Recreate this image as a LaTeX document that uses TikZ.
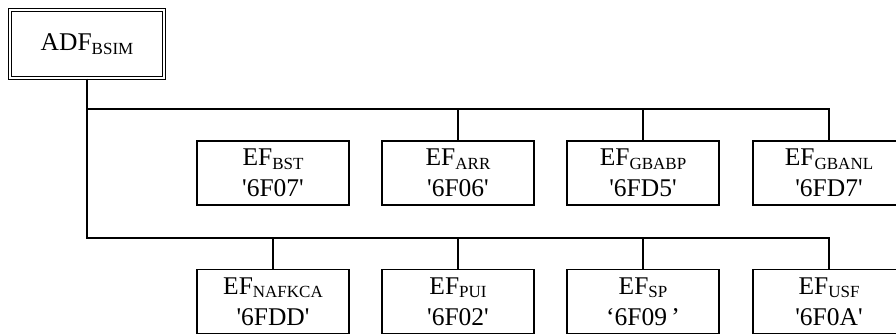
\documentclass[tikz,border=0pt]{standalone}
\usepackage{fontspec}
\setmainfont{Liberation Serif}
\newcommand{\low}[1]{\raisebox{-3.5pt}{\fontsize{17}{17}\selectfont #1}}
\newcommand{\sq}{\textquotesingle}

\begin{document}
\begin{tikzpicture}
            [x=1pt,y=-1pt,every node/.style={font=\fontsize{25.5}{31}\selectfont,align=center,inner sep=0},
             efbox/.style={draw,line width=1.3pt,minimum width=152pt,minimum height=64pt},
             adfbox/.style={draw,double,line width=1.2pt,double distance=2.4pt,minimum width=154pt,minimum height=68pt},
             every path/.style={line width=1.3pt}]
            \useasboundingbox (0,0) rectangle (896,335);

            \node[adfbox] (adf) at (87, 44) {ADF\low{BSIM}};

            \node[efbox] (bst) at (273, 173) {EF\low{BST}\\\sq6F07\sq};
            \node[efbox] (arr) at (458, 173) {EF\low{ARR}\\\sq6F06\sq};
            \node[efbox] (gbabp) at (643, 173) {EF\low{GBABP}\\\sq6FD5\sq};
            \node[efbox] (gbanl) at (829, 173) {EF\low{GBANL}\\\sq6FD7\sq};
            \node[efbox] (nafkca) at (273, 301.5) {EF\low{NAFKCA}\\\sq6FDD\sq};
            \node[efbox] (pui) at (458, 301.5) {EF\low{PUI}\\\sq6F02\sq};
            \node[efbox] (sp) at (643, 301.5) {EF\low{SP}\\`6F09\,'};
            \node[efbox] (usf) at (829, 301.5) {EF\low{USF}\\\sq6F0A\sq};

            \coordinate (j1) at (87, 109);
            \coordinate (j2) at (87, 238);

            \draw (adf.south) -- (j2) -| (usf.north);
            \draw (j1) -| (gbanl.north);
            \draw (arr.north) -- (arr.north |- j1);
            \draw (gbabp.north) -- (gbabp.north |- j1);
            \draw (nafkca.north) -- (nafkca.north |- j2);
            \draw (pui.north) -- (pui.north |- j2);
            \draw (sp.north) -- (sp.north |- j2);
          \end{tikzpicture}
\end{document}
